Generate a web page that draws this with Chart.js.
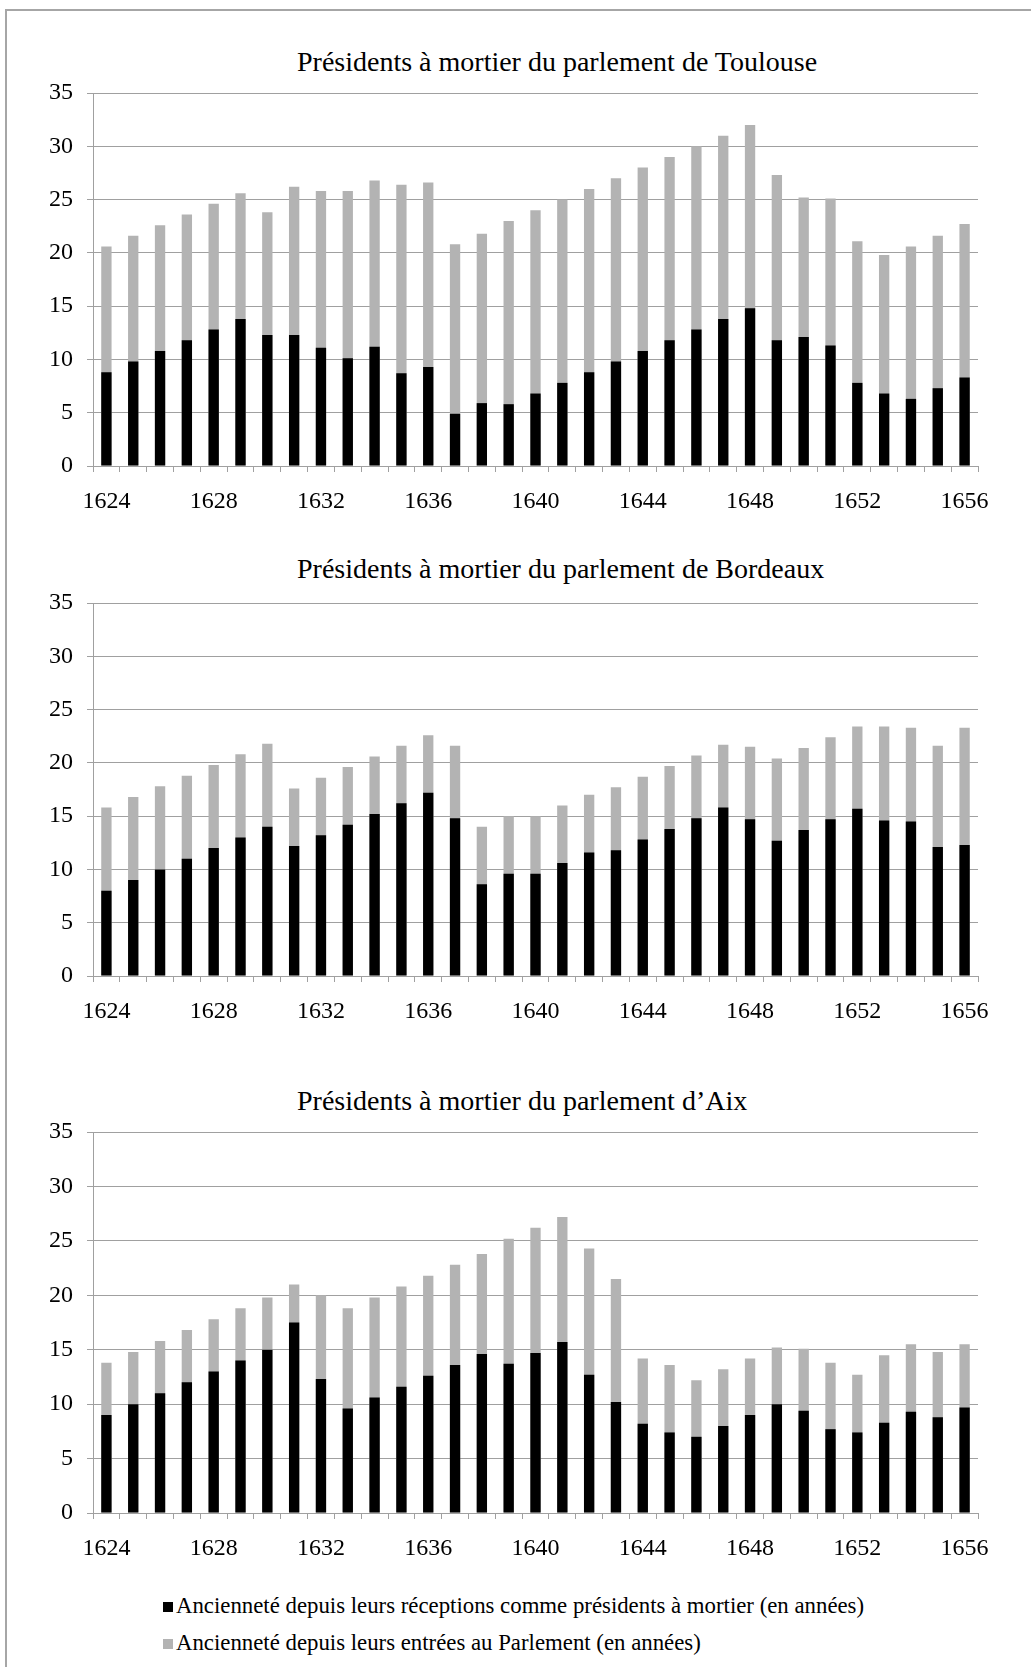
<!DOCTYPE html>
<html>
<head>
<meta charset="utf-8">
<script src="https://cdn.jsdelivr.net/npm/chart.js@4/dist/chart.umd.min.js"></script>
<style>
  html, body { margin: 0; padding: 0; background: #fff; }
  #page { position: relative; width: 1031px; height: 1667px; overflow: hidden; }
  #frame { position: absolute; left: 5px; top: 9px; right: -10px; bottom: -10px;
           border-left: 2px solid #a6a6a6; border-top: 2px solid #a6a6a6; }
  canvas { position: absolute; left: 0; }
  .title { position: absolute; left: 297px; font-family: 'Liberation Serif', serif;
           font-size: 28px; line-height: 31px; color: #000; white-space: nowrap; }
  .legend { position: absolute; left: 163px; font-family: 'Liberation Serif', serif;
            font-size: 22.8px; color: #000; line-height: 26px; white-space: nowrap; }
  .legend span.box { display: inline-block; width: 10px; height: 10px; margin-right: 3px; vertical-align: 1px; }
</style>
</head>
<body>
<div id="page">
  <div id="frame"></div>
  <div class="title" style="top:46px">Présidents à mortier du parlement de Toulouse</div>
  <canvas id="chartToulouse" width="1031" height="480" style="top:40px"></canvas>
  <div class="title" style="top:553px">Présidents à mortier du parlement de Bordeaux</div>
  <canvas id="chartBordeaux" width="1031" height="480" style="top:550px"></canvas>
  <div class="title" style="top:1085px">Présidents à mortier du parlement d’Aix</div>
  <canvas id="chartAix" width="1031" height="488" style="top:1079px"></canvas>
  <div class="legend" style="top:1593px"><span class="box" style="background:#000"></span>Ancienneté depuis leurs réceptions comme présidents à mortier (en années)</div>
  <div class="legend" style="top:1630px"><span class="box" style="background:#b3b3b3"></span>Ancienneté depuis leurs entrées au Parlement (en années)</div>
</div>
<script>
// années (catégories)
const years = [1624, 1625, 1626, 1627, 1628, 1629, 1630, 1631, 1632, 1633, 1634,
               1635, 1636, 1637, 1638, 1639, 1640, 1641, 1642, 1643, 1644, 1645,
               1646, 1647, 1648, 1649, 1650, 1651, 1652, 1653, 1654, 1655, 1656];
const tickYears = [1624, 1628, 1632, 1636, 1640, 1644, 1648, 1652, 1656];
const yTicks = [0, 5, 10, 15, 20, 25, 30, 35];

// Toulouse
const toulouseRecept = [8.8, 9.8, 10.8, 11.8, 12.8, 13.8, 12.3, 12.3, 11.1, 10.1, 11.2, 8.7, 9.3,
                        4.9, 5.9, 5.8, 6.8, 7.8, 8.8, 9.8, 10.8, 11.8, 12.8, 13.8, 14.8,
                        11.8, 12.1, 11.3, 7.8, 6.8, 6.3, 7.3, 8.3];
const toulouseEntree = [20.6, 21.6, 22.6, 23.6, 24.6, 25.6, 23.8, 26.2, 25.8, 25.8, 26.8, 26.4, 26.6,
                        20.8, 21.8, 23.0, 24.0, 25.0, 26.0, 27.0, 28.0, 29.0, 30.0, 31.0, 32.0,
                        27.3, 25.2, 25.1, 21.1, 19.8, 20.6, 21.6, 22.7];

// Bordeaux
const bordeauxRecept = [8.0, 9.0, 10.0, 11.0, 12.0, 13.0, 14.0, 12.2, 13.2, 14.2, 15.2, 16.2, 17.2,
                        14.8, 8.6, 9.6, 9.6, 10.6, 11.6, 11.8, 12.8, 13.8, 14.8, 15.8, 14.7,
                        12.7, 13.7, 14.7, 15.7, 14.6, 14.5, 12.1, 12.3];
const bordeauxEntree = [15.8, 16.8, 17.8, 18.8, 19.8, 20.8, 21.8, 17.6, 18.6, 19.6, 20.6, 21.6, 22.6,
                        21.6, 14.0, 15.0, 15.0, 16.0, 17.0, 17.7, 18.7, 19.7, 20.7, 21.7, 21.5,
                        20.4, 21.4, 22.4, 23.4, 23.4, 23.3, 21.6, 23.3];

// Aix
const aixRecept = [9.0, 10.0, 11.0, 12.0, 13.0, 14.0, 15.0, 17.5, 12.3, 9.6, 10.6, 11.6, 12.6,
                   13.6, 14.6, 13.7, 14.7, 15.7, 12.7, 10.2, 8.2, 7.4, 7.0, 8.0, 9.0,
                   10.0, 9.4, 7.7, 7.4, 8.3, 9.3, 8.8, 9.7];
const aixEntree = [13.8, 14.8, 15.8, 16.8, 17.8, 18.8, 19.8, 21.0, 20.0, 18.8, 19.8, 20.8, 21.8,
                   22.8, 23.8, 25.2, 26.2, 27.2, 24.3, 21.5, 14.2, 13.6, 12.2, 13.2, 14.2,
                   15.2, 15.1, 13.8, 12.7, 14.5, 15.5, 14.8, 15.5];

const seriesLabels = [
  'Ancienneté depuis leurs réceptions comme présidents à mortier (en années)',
  'Ancienneté depuis leurs entrées au Parlement (en années)'
];

const FONT = 'Liberation Serif';
const LINE = '#a0a0a0';

function makeChart(id, recept, entree) {
  const ctx = document.getElementById(id).getContext('2d');
  return new Chart(ctx, {
    type: 'bar',
    data: {
      labels: years,
      datasets: [
        { label: seriesLabels[0], data: recept, backgroundColor: '#000000',
          categoryPercentage: 1, barPercentage: 0.385 },
        { label: seriesLabels[1], data: entree, backgroundColor: '#b3b3b3',
          categoryPercentage: 1, barPercentage: 0.385 }
      ]
    },
    options: {
      responsive: false,
      animation: false,
      devicePixelRatio: 1,
      layout: { padding: { left: 0, right: 53, top: 53, bottom: 0 } },
      plugins: {
        legend: { display: false },
        tooltip: { enabled: false },
        title: { display: false }
      },
      scales: {
        x: {
          stacked: true,
          grid: { offset: true, drawOnChartArea: false, drawTicks: true, tickLength: 6, color: LINE },
          border: { color: LINE },
          ticks: {
            autoSkip: false, maxRotation: 0, minRotation: 0, padding: 15,
            color: '#000', font: { family: FONT, size: 24 },
            callback: (v, i) => tickYears.includes(years[i]) ? String(years[i]) : ''
          },
          afterFit: (s) => { s.height = 54; }
        },
        y: {
          stacked: false,
          min: 0, max: 35,
          afterBuildTicks: (s) => { s.ticks = yTicks.map(v => ({ value: v })); },
          grid: { color: LINE, tickLength: 6 },
          border: { color: LINE },
          ticks: { padding: 14, color: '#000', font: { family: FONT, size: 24 } },
          afterFit: (s) => { s.width = 93; }
        }
      }
    }
  });
}

makeChart('chartToulouse', toulouseRecept, toulouseEntree);
makeChart('chartBordeaux', bordeauxRecept, bordeauxEntree);
makeChart('chartAix', aixRecept, aixEntree);
</script>
</body>
</html>
